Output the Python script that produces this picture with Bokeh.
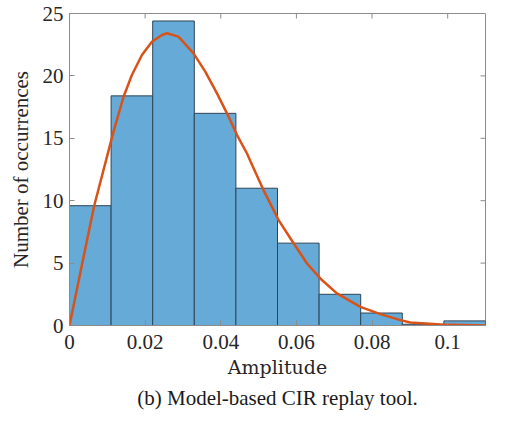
from bokeh.plotting import figure
from bokeh.models import Range1d, FixedTicker, Title
from bokeh.embed import file_html
from bokeh.resources import INLINE

# Histogram data (normalised counts per amplitude bin)
bin_edges = [0.0, 0.011, 0.022, 0.033, 0.044, 0.055, 0.066, 0.077, 0.088, 0.099, 0.11]
counts = [9.6, 18.4, 24.4, 17.0, 11.0, 6.6, 2.5, 1.0, 0.1, 0.37]

# Fitted distribution curve
fit_x = [0.0, 0.00336, 0.00653, 0.01164, 0.01429, 0.0165, 0.01915, 0.0218, 0.02444, 0.0258,
         0.0288, 0.0328, 0.0359, 0.039, 0.04164, 0.0443, 0.0469, 0.0491, 0.0513, 0.0553,
         0.0593, 0.0628, 0.0663, 0.0707, 0.0769, 0.0822, 0.0875, 0.0901, 0.0981, 0.11]
fit_y = [0.0, 4.97, 9.6, 15.53, 18.33, 20.07, 21.68, 22.74, 23.28, 23.42,
         23.15, 21.8, 20.34, 18.6, 17.0, 15.26, 13.8, 12.32, 10.85, 8.44,
         6.57, 4.97, 3.77, 2.57, 1.49, 0.91, 0.43, 0.24, 0.08, 0.01]

x_ticks = [0, 0.02, 0.04, 0.06, 0.08, 0.1]
x_tick_labels = ["0", "0.02", "0.04", "0.06", "0.08", "0.1"]
y_ticks = [0, 5, 10, 15, 20, 25]

X_MAX, Y_MAX = 0.11, 25
SERIF = "Liberation Serif"
AXIS_GRAY = "#8c8c8c"

p = figure(width=505, height=421, output_backend="svg", toolbar_location=None,
           x_range=Range1d(0, X_MAX), y_range=Range1d(0, Y_MAX),
           min_border_left=69, min_border_right=20, min_border_top=13, min_border_bottom=96)
p.xgrid.visible = False
p.ygrid.visible = False
p.outline_line_color = AXIS_GRAY
p.background_fill_color = "white"
p.border_fill_color = "white"

p.quad(left=bin_edges[:-1], right=bin_edges[1:], bottom=0, top=counts,
       fill_color="#66AAD7", line_color="#2e4557", line_width=1)
p.line(fit_x, fit_y, line_color="#D95319", line_width=2.5, line_join="round")

# inward ticks on the top and right edges of the box (MATLAB style)
tick_len_y = Y_MAX * 5 / 312
tick_len_x = X_MAX * 5 / 416
top_ticks = [t for t in x_ticks if 0 < t < X_MAX]
right_ticks = [t for t in y_ticks if 0 < t < Y_MAX]
p.segment(x0=top_ticks, x1=top_ticks, y0=[Y_MAX] * len(top_ticks),
          y1=[Y_MAX - tick_len_y] * len(top_ticks), line_color=AXIS_GRAY, line_width=1)
p.segment(x0=[X_MAX] * len(right_ticks), x1=[X_MAX - tick_len_x] * len(right_ticks),
          y0=right_ticks, y1=right_ticks, line_color=AXIS_GRAY, line_width=1)

for ax in (p.xaxis[0], p.yaxis[0]):
    ax.axis_line_color = AXIS_GRAY
    ax.major_tick_line_color = AXIS_GRAY
    ax.major_tick_in = 5
    ax.major_tick_out = 0
    ax.minor_tick_line_color = None
    ax.major_label_text_font = SERIF
    ax.major_label_text_font_size = "21px"
    ax.major_label_text_color = "#262626"
    ax.axis_label_text_color = "#262626"
    ax.axis_label_text_font_style = "normal"

p.xaxis.ticker = FixedTicker(ticks=x_ticks)
p.xaxis.major_label_overrides = {t: l for t, l in zip(x_ticks, x_tick_labels)}
p.xaxis.axis_label = "Amplitude"
p.xaxis.axis_label_text_font = "DejaVu Serif"
p.xaxis.axis_label_text_font_size = "19px"
p.xaxis.major_label_standoff = 9
p.xaxis.axis_label_standoff = 4

p.yaxis.ticker = FixedTicker(ticks=y_ticks)
p.yaxis.axis_label = "Number of occurrences"
p.yaxis.axis_label_text_font = SERIF
p.yaxis.axis_label_text_font_size = "21px"
p.yaxis.major_label_standoff = 6
p.yaxis.axis_label_standoff = 7

cap = Title(text="(b) Model-based CIR replay tool.", align="center",
            text_font=SERIF, text_font_size="21px", text_font_style="normal",
            text_color="#1a1a1a", standoff=6)
p.add_layout(cap, "below")

open("out.html", "w").write(file_html(p, INLINE))
